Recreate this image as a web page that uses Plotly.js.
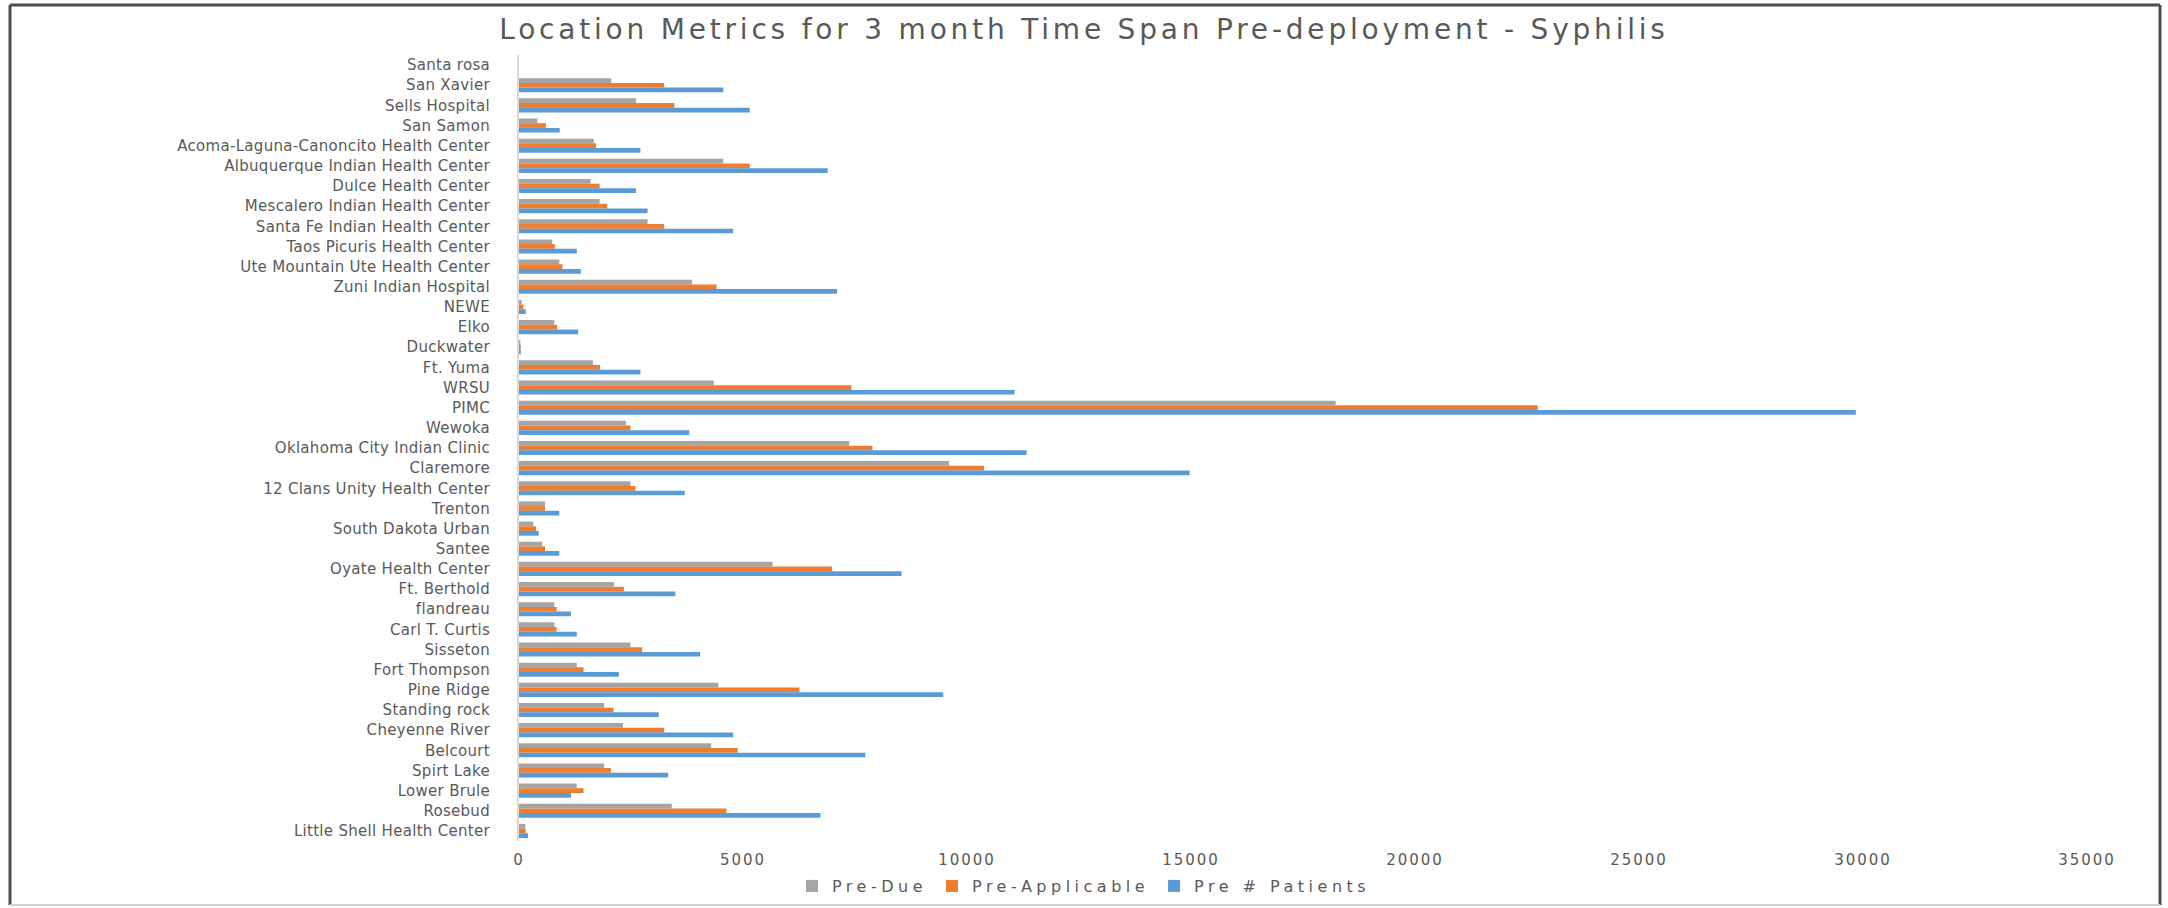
<!DOCTYPE html>
<html>
<head>
<meta charset="utf-8">
<script src="https://cdn.plot.ly/plotly-3.0.1.min.js"></script>
<style>
  html, body { margin: 0; padding: 0; background: #ffffff; }
  #chart { width: 2168px; height: 908px; }
  .gtitle { letter-spacing: 3.8px; }
  .xtick text { letter-spacing: 2px; }
  .ytick text { letter-spacing: 0.3px; }
  .legendtext { letter-spacing: 4.5px; }
</style>
</head>
<body>
<div id="chart"></div>
<script>
const categories = ["Santa rosa","San Xavier","Sells Hospital","San Samon","Acoma-Laguna-Canoncito Health Center","Albuquerque Indian Health Center","Dulce Health Center","Mescalero Indian Health Center","Santa Fe Indian Health Center","Taos Picuris Health Center","Ute Mountain Ute Health Center","Zuni Indian Hospital","NEWE","Elko","Duckwater","Ft. Yuma","WRSU","PIMC","Wewoka","Oklahoma City Indian Clinic","Claremore","12 Clans Unity Health Center","Trenton","South Dakota Urban","Santee","Oyate Health Center","Ft. Berthold","flandreau","Carl T. Curtis","Sisseton","Fort Thompson","Pine Ridge","Standing rock","Cheyenne River","Belcourt","Spirt Lake","Lower Brule","Rosebud","Little Shell Health Center"];

const preDue = [0,2060,2610,410,1670,4560,1600,1800,2870,740,900,3860,60,790,30,1650,4350,18230,2390,7370,9600,2490,580,320,520,5660,2120,790,790,2490,1290,4450,1900,2320,4290,1900,1290,3410,140];

const preApplicable = [0,3240,3470,600,1720,5150,1800,1970,3240,800,970,4410,100,850,40,1810,7420,22740,2490,7890,10380,2600,580,380,580,6990,2340,840,840,2750,1440,6260,2110,3240,4880,2050,1440,4630,150];

const prePatients = [0,4560,5150,910,2710,6890,2610,2870,4780,1290,1380,7100,150,1320,40,2710,11060,29840,3800,11330,14970,3700,900,440,900,8540,3490,1160,1290,4040,2230,9470,3120,4780,7730,3330,1160,6730,200];

const seriesNames = ["Pre-Due","Pre-Applicable","Pre # Patients"];
const seriesColors = ["#A5A5A5","#ED7D31","#5B9BD5"];
const xTickVals = [0,5000,10000,15000,20000,25000,30000,35000];
const xTickText = ["0","5000","10000","15000","20000","25000","30000","35000"];
const chartTitle = "Location Metrics for 3 month Time Span Pre-deployment - Syphilis";

const textColor = "#595959";
const fontFamily = "DejaVu Sans, sans-serif";

const seriesValues = [preDue, preApplicable, prePatients];
const traces = seriesValues.map((vals, i) => ({
  type: "bar",
  orientation: "h",
  name: seriesNames[i],
  y: categories,
  x: vals,
  marker: { color: seriesColors[i], line: { width: 0 } },
  hoverinfo: "x+y+name"
}));

const W = 2168, H = 908;
const M = { l: 519, r: 81, t: 55, b: 67 };
const pw = W - M.l - M.r, ph = H - M.t - M.b;
const px = v => (v - M.l) / pw;
const py = v => (H - M.b - v) / ph;

const shapes = [
  { type: "line", xref: "paper", yref: "paper", x0: px(10), x1: px(2160), y0: py(5), y1: py(5), line: { color: "#4d4d4d", width: 3 } },
  { type: "line", xref: "paper", yref: "paper", x0: px(10), x1: px(10), y0: py(5), y1: py(905), line: { color: "#4d4d4d", width: 3 } },
  { type: "line", xref: "paper", yref: "paper", x0: px(2160), x1: px(2160), y0: py(5), y1: py(905), line: { color: "#4d4d4d", width: 3 } },
  { type: "line", xref: "paper", yref: "paper", x0: px(10), x1: px(2160), y0: py(905), y1: py(905), line: { color: "#d0d0d0", width: 2 } }
];

const layout = {
  width: W,
  height: H,
  margin: { l: M.l, r: M.r, t: M.t, b: M.b, pad: 0 },
  paper_bgcolor: "#ffffff",
  plot_bgcolor: "#ffffff",
  font: { family: fontFamily, color: textColor, size: 14 },
  title: {
    text: chartTitle,
    font: { family: fontFamily, size: 28, color: textColor },
    x: 0.5, xref: "container", xanchor: "center",
    y: 1 - 29 / H, yref: "container", yanchor: "middle"
  },
  barmode: "group",
  bargap: 0.3,
  bargroupgap: 0,
  showlegend: true,
  legend: {
    orientation: "h",
    xref: "container", x: 0.5, xanchor: "center",
    yref: "container", y: 1 - 886 / H, yanchor: "middle",
    font: { family: fontFamily, size: 16, color: textColor },
    itemwidth: 30,
    traceorder: "normal"
  },
  xaxis: {
    range: [0, 35000],
    tickmode: "array",
    tickvals: xTickVals,
    ticktext: xTickText,
    showgrid: false,
    zeroline: false,
    showline: false,
    ticks: "",
    ticklabelstandoff: 8,
    tickfont: { family: fontFamily, size: 15, color: textColor },
    fixedrange: true
  },
  yaxis: {
    type: "category",
    autorange: "reversed",
    showgrid: false,
    zeroline: false,
    showline: true,
    linecolor: "#d9d9d9",
    linewidth: 2,
    ticks: "",
    ticklabelstandoff: 24,
    tickfont: { family: fontFamily, size: 15, color: textColor },
    fixedrange: true
  },
  shapes: shapes
};

Plotly.newPlot("chart", traces, layout, { displayModeBar: false, staticPlot: true });
</script>
</body>
</html>
